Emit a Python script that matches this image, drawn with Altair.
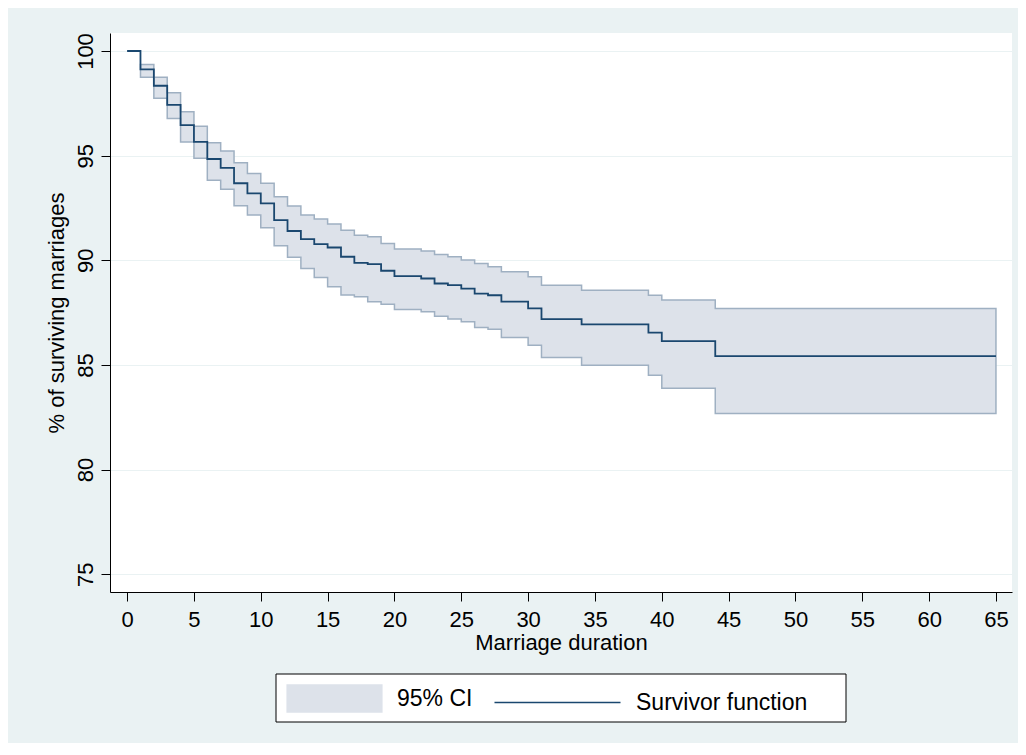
import altair as alt
import pandas as pd

years = list(range(0, 20)) + [20, 22, 23, 24, 25, 26, 27, 28, 30, 31, 34, 39, 40, 44, 65]
surv = [100, 99.12, 98.34, 97.43, 96.46, 95.66, 94.84, 94.42, 93.68, 93.20, 92.72, 91.92, 91.40, 91.01, 90.77, 90.61, 90.17, 89.88, 89.82, 89.50,
        89.24, 89.13, 88.89, 88.81, 88.65, 88.41, 88.33, 88.02, 87.70, 87.19, 86.94, 86.54, 86.14, 85.42, 85.42]
upper = [100, 99.36, 98.74, 98.01, 97.10, 96.41, 95.62, 95.22, 94.66, 94.15, 93.68, 93.04, 92.59, 92.16, 91.97, 91.73, 91.44, 91.20, 91.12, 90.80,
         90.54, 90.44, 90.28, 90.17, 90.01, 89.85, 89.69, 89.45, 89.21, 88.81, 88.57, 88.33, 88.10, 87.70, 87.70]
lower = [100, 98.74, 97.74, 96.78, 95.65, 94.87, 93.83, 93.39, 92.60, 92.16, 91.55, 90.69, 90.14, 89.61, 89.18, 88.73, 88.34, 88.26, 88.02, 87.90,
         87.65, 87.54, 87.33, 87.19, 87.06, 86.79, 86.70, 86.31, 85.94, 85.36, 84.99, 84.51, 83.88, 82.68, 82.68]

df = pd.DataFrame({"t": years, "s": surv, "u": upper, "l": lower})
df_ci = df[df.t >= 1].copy()
df_ci["ci"] = "95% CI"
df["sf"] = "Survivor function"

xs = alt.Scale(domain=[-1.28, 66.2], nice=False)
ys = alt.Scale(domain=[74.15, 100.86], nice=False)

xax = alt.Axis(values=list(range(0, 70, 5)), title="Marriage duration", grid=False, tickSize=9,
               labelPadding=8, labelFontSize=22, titleFontSize=22, titlePadding=2,
               labelColor="#000", titleColor="#000", domainColor="#000", tickColor="#000",
               titleFontWeight="normal")
yax = alt.Axis(values=list(range(75, 105, 5)), title="% of surviving marriages", grid=True, gridColor="#eaf2f3",
               tickSize=9, labelAngle=270, labelAlign="center", labelBaseline="bottom", labelPadding=4,
               labelFontSize=22, titleFontSize=22, labelColor="#000", titleColor="#000",
               domainColor="#000", tickColor="#000", titleFontWeight="normal", titlePadding=6)

box = alt.Chart(pd.DataFrame({"k": [0]})).mark_rect(fill="white", stroke="#000", strokeWidth=1, clip=False).encode(
    x=alt.value(166), x2=alt.value(736), y=alt.value(641), y2=alt.value(689))

area = alt.Chart(df_ci).mark_area(interpolate="step-after", opacity=1, stroke="#9fb0c2", strokeWidth=1.5).encode(
    x=alt.X("t:Q", scale=xs, axis=xax),
    y=alt.Y("u:Q", scale=ys, axis=yax),
    y2="l:Q",
    fill=alt.Fill("ci:N", scale=alt.Scale(range=["#dde2ea"]),
                  legend=alt.Legend(title=None, orient="none", legendX=196, legendY=637,
                                    symbolType="M-1.7,-0.5H1.7V0.5H-1.7Z", symbolSize=3200, labelLimit=400,
                                    symbolStrokeWidth=0, labelFontSize=23, labelColor="#000", labelOffset=34)),
)
line = alt.Chart(df).mark_line(interpolate="step-after", strokeWidth=1.8).encode(
    x=alt.X("t:Q", scale=xs),
    y=alt.Y("s:Q", scale=ys),
    stroke=alt.Stroke("sf:N", scale=alt.Scale(range=["#1a476f"]),
                      legend=alt.Legend(title=None, orient="none", legendX=415, legendY=637,
                                        symbolType="M-2,0H2", symbolSize=3970, labelLimit=400,
                                        symbolStrokeWidth=1.6, labelFontSize=23, labelColor="#000", labelOffset=46)),
)

chart = (box + area + line).resolve_scale(fill="independent", stroke="independent").properties(
    width=1010, height=735, background="#eaf2f3",
    autosize=alt.AutoSizeParams(type="fit", contains="padding"),
    padding={"left": 37, "right": 6, "top": 25, "bottom": 90},
).configure(font="Liberation Sans").configure_view(fill="white", stroke="#000", strokeWidth=0)

chart.save("out.html", embed_options={"renderer": "svg", "actions": False})
